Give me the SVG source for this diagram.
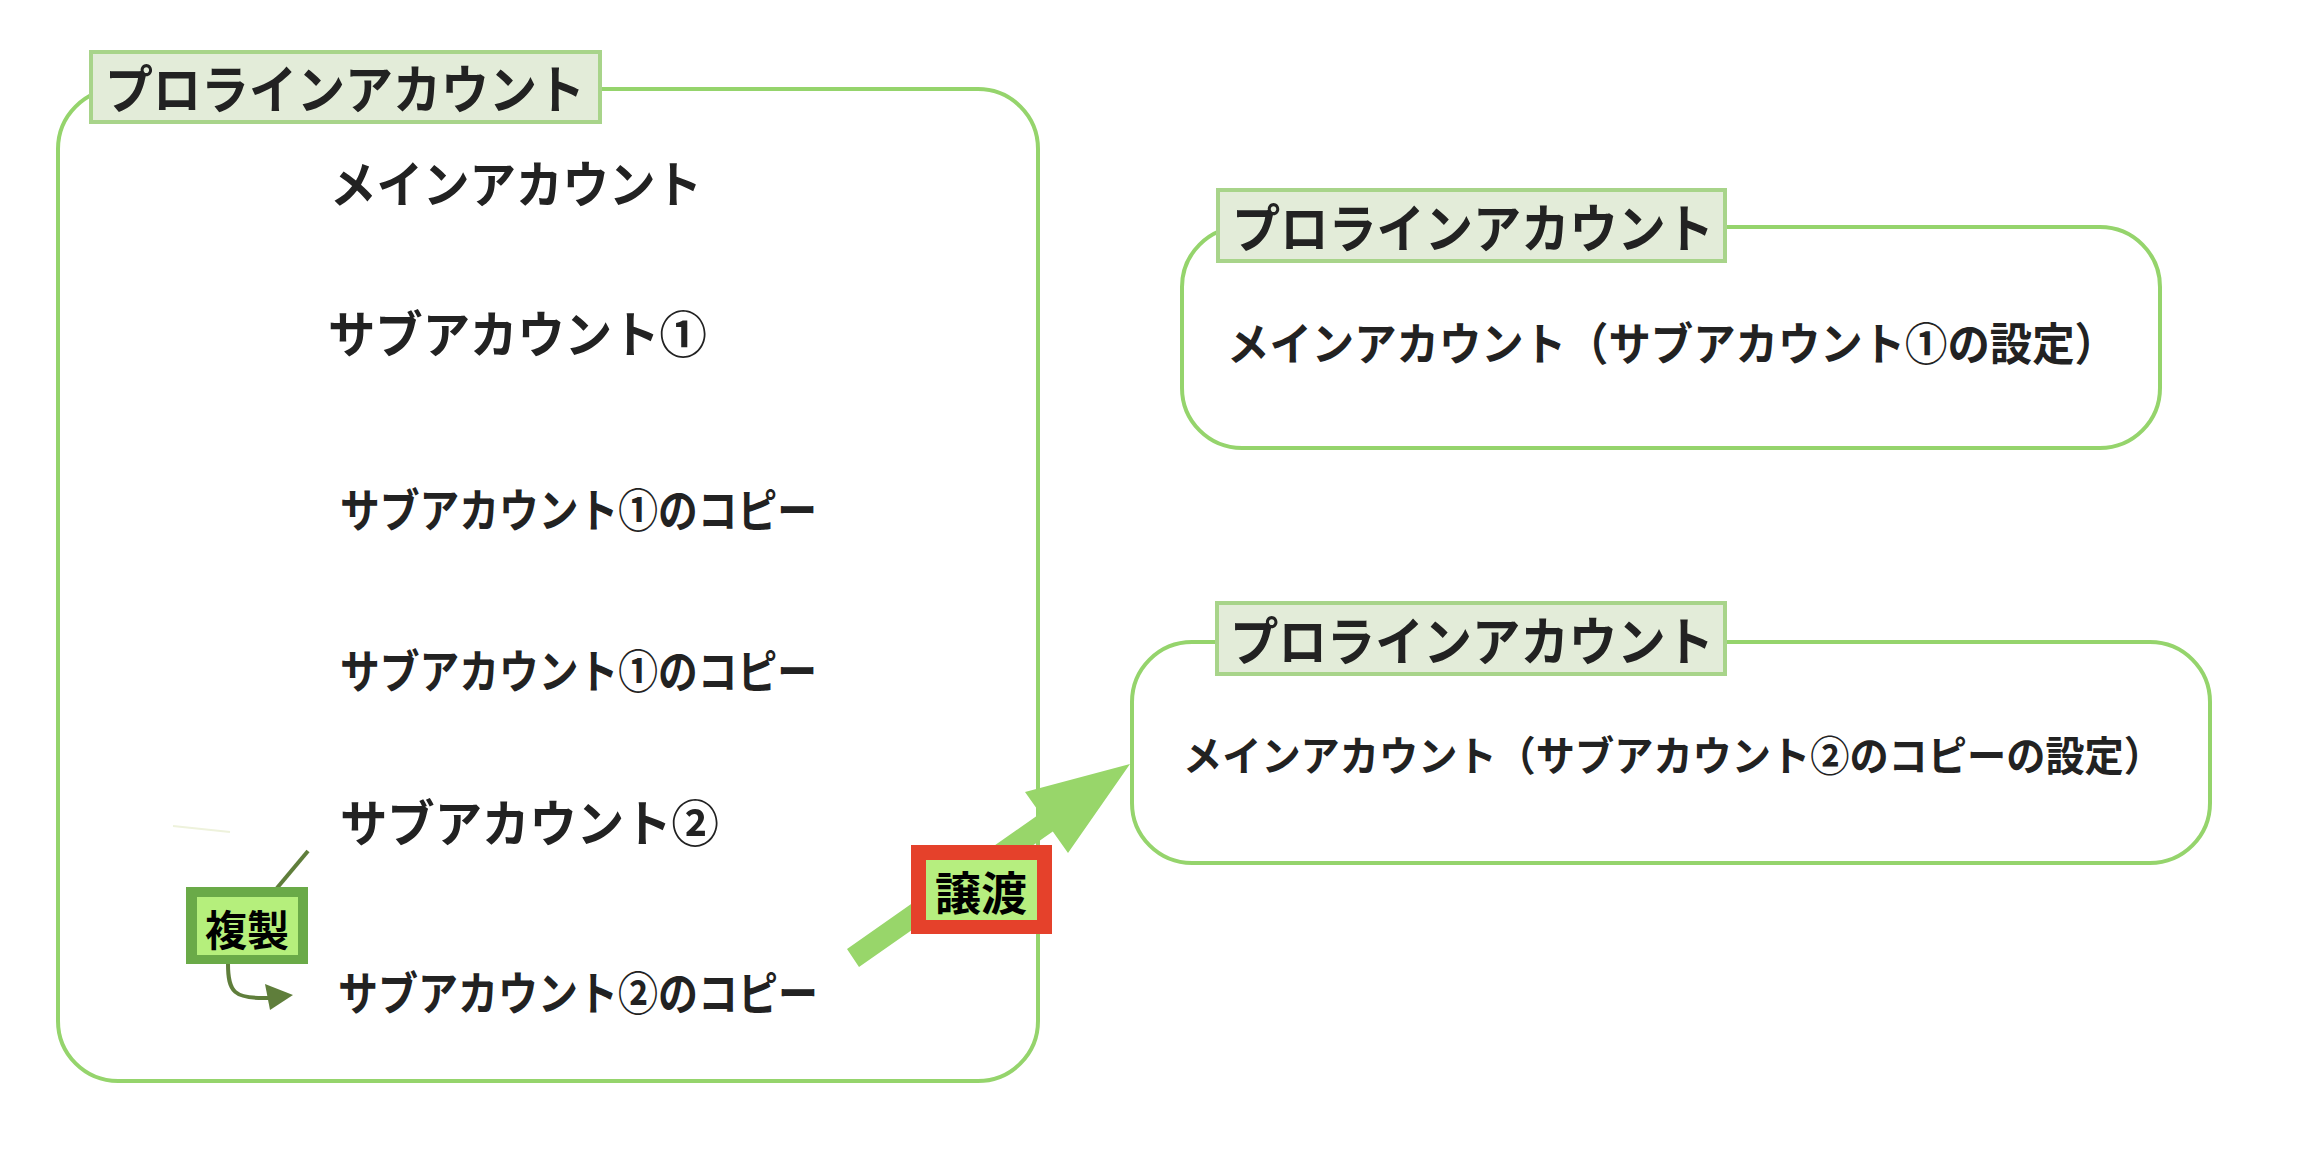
<svg xmlns="http://www.w3.org/2000/svg" width="2318" height="1154" viewBox="0 0 2318 1154">
<style>
.frame{fill:#ffffff;stroke:#95d46c;stroke-width:4}
.ttl{fill:#e3ecd9;stroke:#a8d48a;stroke-width:4}
.t{font-family:"Noto Sans CJK JP","Noto Sans CJK SC",sans-serif;font-weight:700;fill:#222222;dominant-baseline:central}
.lbl{font-family:"Noto Sans CJK JP","Noto Sans CJK SC",sans-serif;font-weight:700;fill:#000000;dominant-baseline:central;text-anchor:middle}
</style>
<rect width="2318" height="1154" fill="#ffffff"/>
<g id="account-left">
<rect class="frame" x="58" y="89" width="980" height="992" rx="60" ry="60"/>
<rect class="ttl" x="91" y="52" width="509" height="70"/>
<text class="t" x="105" y="86" font-size="52" textLength="480" lengthAdjust="spacingAndGlyphs">プロラインアカウント</text>
</g>
<g id="main-account"><text class="t" x="330" y="181" font-size="50" textLength="372" lengthAdjust="spacingAndGlyphs">メインアカウント</text></g>
<g id="sub1"><text class="t" x="328" y="331" font-size="50" textLength="379" lengthAdjust="spacingAndGlyphs">サブアカウント①</text></g>
<g id="sub1-copy-a"><text class="t" x="340" y="507" font-size="46" textLength="477" lengthAdjust="spacingAndGlyphs">サブアカウント①のコピー</text></g>
<g id="sub1-copy-b"><text class="t" x="340" y="668" font-size="46" textLength="477" lengthAdjust="spacingAndGlyphs">サブアカウント①のコピー</text></g>
<g id="sub2"><text class="t" x="340" y="820" font-size="50" textLength="379" lengthAdjust="spacingAndGlyphs">サブアカウント②</text></g>
<g id="sub2-copy"><text class="t" x="338" y="990" font-size="46" textLength="480" lengthAdjust="spacingAndGlyphs">サブアカウント②のコピー</text></g>
<g id="account-right1">
<rect class="frame" x="1182" y="227" width="978" height="221" rx="60" ry="60"/>
<rect class="ttl" x="1218" y="190" width="507" height="71"/>
<text class="t" x="1232" y="225" font-size="52" textLength="482" lengthAdjust="spacingAndGlyphs">プロラインアカウント</text>
<text class="t" x="1227" y="341" font-size="45" textLength="890" lengthAdjust="spacingAndGlyphs">メインアカウント（サブアカウント①の設定）</text>
</g>
<g id="account-right2">
<rect class="frame" x="1132" y="642" width="1078" height="221" rx="60" ry="60"/>
<rect class="ttl" x="1217" y="603" width="508" height="71"/>
<text class="t" x="1230" y="638" font-size="52" textLength="484" lengthAdjust="spacingAndGlyphs">プロラインアカウント</text>
<text class="t" x="1183" y="753" font-size="41" textLength="980" lengthAdjust="spacingAndGlyphs">メインアカウント（サブアカウント②のコピーの設定）</text>
</g>
<g id="connectors">
<line x1="173" y1="826" x2="230" y2="832" stroke="#eef2dc" stroke-width="2"/>
<line x1="277" y1="888" x2="308" y2="851" stroke="#5f7e3b" stroke-width="4"/>
<path d="M228,964 C228,992 234,999 268,998" fill="none" stroke="#5f7e3b" stroke-width="4"/>
<polygon points="265,984 293,995 270,1010" fill="#5f7e3b"/>
<polygon points="859,967 1052.8,831.5 1068,853 1130,764 1025,792 1040.2,813.5 847,949" fill="#98d66a"/>
</g>
<g id="label-fukusei">
<rect x="186" y="887" width="122" height="77" fill="#6aaa48"/>
<rect x="197" y="897" width="101" height="58" fill="#b5ef7c"/>
<text class="lbl" x="247" y="927" font-size="42">複製</text>
</g>
<g id="label-joto">
<rect x="911" y="845" width="141" height="89" fill="#e5412b"/>
<rect x="926" y="860" width="111" height="60" fill="#b6ee7f"/>
<text class="lbl" x="981" y="890" font-size="46">譲渡</text>
</g>
</svg>
